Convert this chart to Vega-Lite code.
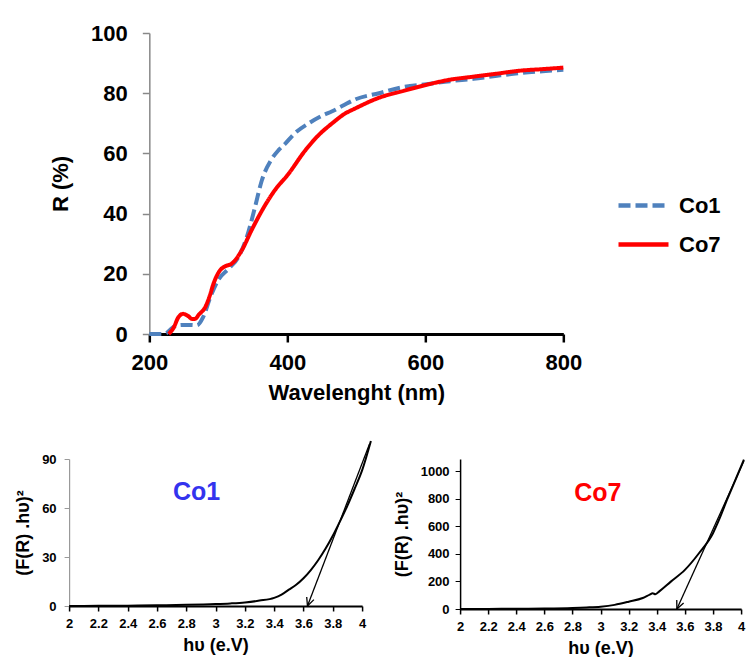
{
  "$schema": "https://vega.github.io/schema/vega-lite/v6.json",
  "background": "white",
  "padding": {"left": 14, "top": 22, "right": 0, "bottom": 0},
  "config": {
    "view": {"stroke": null},
    "font": "Liberation Sans",
    "axis": {"labelFontWeight": "bold", "titleFontWeight": "bold", "labelColor": "black", "titleColor": "black", "grid": false, "labelFont": "Liberation Sans", "titleFont": "Liberation Sans", "labelOverlap": false}
  },
  "datasets": {
    "refl": [
      {"wl": 200, "R": 0, "s": "Co1"}, {"wl": 210, "R": 0, "s": "Co1"}, {"wl": 220, "R": 0, "s": "Co1"}, {"wl": 225, "R": 0.3, "s": "Co1"},
      {"wl": 232, "R": 1.8, "s": "Co1"}, {"wl": 240, "R": 2.8, "s": "Co1"}, {"wl": 250, "R": 3, "s": "Co1"}, {"wl": 260, "R": 3, "s": "Co1"},
      {"wl": 269, "R": 2.9, "s": "Co1"}, {"wl": 278, "R": 5.6, "s": "Co1"}, {"wl": 288, "R": 12, "s": "Co1"}, {"wl": 300, "R": 18, "s": "Co1"},
      {"wl": 315, "R": 21.7, "s": "Co1"}, {"wl": 329, "R": 25.5, "s": "Co1"}, {"wl": 341, "R": 32, "s": "Co1"}, {"wl": 353, "R": 42, "s": "Co1"},
      {"wl": 363, "R": 51, "s": "Co1"}, {"wl": 377, "R": 58, "s": "Co1"}, {"wl": 387, "R": 61, "s": "Co1"}, {"wl": 396, "R": 63, "s": "Co1"},
      {"wl": 410, "R": 66.5, "s": "Co1"}, {"wl": 431, "R": 70, "s": "Co1"}, {"wl": 450, "R": 72.5, "s": "Co1"}, {"wl": 465, "R": 74, "s": "Co1"},
      {"wl": 480, "R": 75.8, "s": "Co1"}, {"wl": 499, "R": 78, "s": "Co1"}, {"wl": 533, "R": 80, "s": "Co1"}, {"wl": 567, "R": 82, "s": "Co1"},
      {"wl": 602, "R": 83, "s": "Co1"}, {"wl": 636, "R": 84, "s": "Co1"}, {"wl": 670, "R": 84.8, "s": "Co1"}, {"wl": 704, "R": 85.8, "s": "Co1"},
      {"wl": 738, "R": 86.7, "s": "Co1"}, {"wl": 770, "R": 87.3, "s": "Co1"}, {"wl": 800, "R": 87.8, "s": "Co1"},
      {"wl": 228, "R": 0, "s": "Co7"}, {"wl": 235, "R": 2, "s": "Co7"}, {"wl": 242, "R": 5.5, "s": "Co7"}, {"wl": 249, "R": 6.7, "s": "Co7"},
      {"wl": 256, "R": 6, "s": "Co7"}, {"wl": 262, "R": 5, "s": "Co7"}, {"wl": 266, "R": 5, "s": "Co7"}, {"wl": 272, "R": 6.5, "s": "Co7"},
      {"wl": 281, "R": 8.9, "s": "Co7"}, {"wl": 288, "R": 13, "s": "Co7"}, {"wl": 293, "R": 16.7, "s": "Co7"}, {"wl": 302, "R": 21, "s": "Co7"},
      {"wl": 310, "R": 22.5, "s": "Co7"}, {"wl": 319, "R": 23.3, "s": "Co7"}, {"wl": 334, "R": 27.8, "s": "Co7"}, {"wl": 348, "R": 34.4, "s": "Co7"},
      {"wl": 365, "R": 41.7, "s": "Co7"}, {"wl": 382, "R": 47.8, "s": "Co7"}, {"wl": 401, "R": 53, "s": "Co7"}, {"wl": 426, "R": 61, "s": "Co7"},
      {"wl": 445, "R": 66, "s": "Co7"}, {"wl": 465, "R": 70, "s": "Co7"}, {"wl": 482, "R": 73, "s": "Co7"}, {"wl": 499, "R": 75, "s": "Co7"},
      {"wl": 533, "R": 78.5, "s": "Co7"}, {"wl": 567, "R": 80.7, "s": "Co7"}, {"wl": 602, "R": 82.8, "s": "Co7"}, {"wl": 636, "R": 84.5, "s": "Co7"},
      {"wl": 670, "R": 85.5, "s": "Co7"}, {"wl": 704, "R": 86.5, "s": "Co7"}, {"wl": 738, "R": 87.5, "s": "Co7"}, {"wl": 770, "R": 88, "s": "Co7"},
      {"wl": 800, "R": 88.5, "s": "Co7"}
    ],
    "tauc1": [
      {"e": 2.0, "f": 0}, {"e": 2.2, "f": 0.1}, {"e": 2.4, "f": 0.2}, {"e": 2.6, "f": 0.4}, {"e": 2.8, "f": 0.7},
      {"e": 3.0, "f": 1.2}, {"e": 3.1, "f": 1.6}, {"e": 3.2, "f": 2.2}, {"e": 3.3, "f": 3.3}, {"e": 3.4, "f": 5},
      {"e": 3.45, "f": 7}, {"e": 3.5, "f": 10}, {"e": 3.55, "f": 13}, {"e": 3.6, "f": 17}, {"e": 3.65, "f": 22},
      {"e": 3.7, "f": 28}, {"e": 3.75, "f": 35}, {"e": 3.8, "f": 43}, {"e": 3.85, "f": 52}, {"e": 3.9, "f": 61.5},
      {"e": 3.95, "f": 72}, {"e": 4.0, "f": 83}, {"e": 4.06, "f": 101}
    ],
    "arrow1": [
      {"seg": "a", "o": 1, "e": 4.05, "f": 99}, {"seg": "a", "o": 2, "e": 3.627, "f": 0},
      {"seg": "b", "o": 1, "e": 3.627, "f": 0}, {"seg": "b", "o": 2, "e": 3.671, "f": 3.9},
      {"seg": "c", "o": 1, "e": 3.627, "f": 0}, {"seg": "c", "o": 2, "e": 3.622, "f": 5.5}
    ],
    "tauc7": [
      {"e": 2.0, "f": 0}, {"e": 2.2, "f": 0.5}, {"e": 2.4, "f": 1.5}, {"e": 2.6, "f": 3}, {"e": 2.8, "f": 7},
      {"e": 2.9, "f": 11}, {"e": 3.0, "f": 17}, {"e": 3.1, "f": 30}, {"e": 3.2, "f": 53}, {"e": 3.3, "f": 80},
      {"e": 3.35, "f": 105}, {"e": 3.37, "f": 114}, {"e": 3.39, "f": 108}, {"e": 3.42, "f": 130}, {"e": 3.5, "f": 199},
      {"e": 3.6, "f": 284}, {"e": 3.7, "f": 405}, {"e": 3.8, "f": 551}, {"e": 3.85, "f": 665}, {"e": 3.9, "f": 794},
      {"e": 3.95, "f": 915}, {"e": 4.0, "f": 1036}, {"e": 4.02, "f": 1085}
    ],
    "arrow7": [
      {"seg": "a", "o": 1, "e": 4.02, "f": 1075}, {"seg": "a", "o": 2, "e": 3.543, "f": 0},
      {"seg": "b", "o": 1, "e": 3.543, "f": 0}, {"seg": "b", "o": 2, "e": 3.591, "f": 43},
      {"seg": "c", "o": 1, "e": 3.543, "f": 0}, {"seg": "c", "o": 2, "e": 3.542, "f": 65}
    ],
    "labels": [
      {"panel": "Co1", "e": 2.87, "f": 70},
      {"panel": "Co7", "e": 2.98, "f": 840}
    ]
  },
  "vconcat": [
    {
      "width": 414,
      "height": 301,
      "title": {"text": " ", "orient": "right", "offset": 76, "fontSize": 10},
      "data": {"name": "refl"},
      "mark": {"type": "line", "interpolate": "monotone", "strokeWidth": 4},
      "encoding": {
        "x": {"field": "wl", "type": "quantitative", "scale": {"domain": [200, 800]},
          "axis": {"values": [200, 400, 600, 800], "title": "Wavelenght (nm)", "labelFontSize": 22, "titleFontSize": 22,
            "domainColor": "black", "domainWidth": 3, "tickColor": "black", "tickWidth": 2.5, "tickSize": 8,
            "labelPadding": 10, "titlePadding": 9, "labelFlush": false}},
        "y": {"field": "R", "type": "quantitative", "scale": {"domain": [0, 100]},
          "axis": {"values": [0, 20, 40, 60, 80, 100], "title": "R (%)", "labelFontSize": 22, "titleFontSize": 22,
            "domainColor": "#888888", "domainWidth": 1.5, "tickColor": "#888888", "tickWidth": 1.5, "tickSize": 7,
            "labelPadding": 15, "titlePadding": 18}},
        "color": {"field": "s", "type": "nominal",
          "scale": {"domain": ["Co1", "Co7"], "range": ["#4F81BD", "#FF0000"]},
          "legend": {"title": null, "orient": "none", "legendX": 547, "legendY": 145, "symbolType": "stroke",
            "symbolSize": 2500, "symbolStrokeWidth": 4.5, "labelFontSize": 22, "labelFontWeight": "bold",
            "labelColor": "black", "labelOffset": 8, "rowPadding": -10}},
        "strokeDash": {"field": "s", "type": "nominal",
          "scale": {"domain": ["Co1", "Co7"], "range": [[12, 5], [1, 0]]}, "legend": null}
      }
    },
    {
      "hconcat": [
        {
          "width": 293,
          "height": 147,
          "encoding": {
            "x": {"field": "e", "type": "quantitative", "scale": {"domain": [2, 4]},
              "axis": {"values": [2, 2.2, 2.4, 2.6, 2.8, 3, 3.2, 3.4, 3.6, 3.8, 4], "format": "~g", "title": "hυ (e.V)",
                "labelOverlap": false, "labelFontSize": 13, "titleFontSize": 18, "domainColor": "black", "domainWidth": 2,
                "tickColor": "black", "tickWidth": 1.5, "tickSize": 5, "labelPadding": 6, "titlePadding": 6, "labelFlush": false}},
            "y": {"field": "f", "type": "quantitative", "scale": {"domain": [0, 90]},
              "axis": {"values": [0, 30, 60, 90], "title": "(F(R) .hυ)²", "labelFontSize": 13, "titleFontSize": 18,
                "labelOverlap": false, "domainColor": "#999999", "domainWidth": 1.2, "tickColor": "#999999", "tickSize": 5,
                "labelPadding": 8, "titlePadding": 9}}
          },
          "layer": [
            {
              "data": {"name": "tauc1"},
              "mark": {"type": "line", "color": "black", "strokeWidth": 2, "interpolate": "monotone"}
            },
            {
              "data": {"name": "arrow1"},
              "mark": {"type": "line", "color": "black", "strokeWidth": 1.3},
              "encoding": {
                "detail": {"field": "seg"},
                "order": {"field": "o"}
              }
            },
            {
              "data": {"name": "labels"},
              "transform": [{"filter": "datum.panel === 'Co1'"}],
              "mark": {"type": "text", "fontSize": 25, "fontWeight": "bold", "color": "#3333EE"},
              "encoding": {
                "text": {"field": "panel"}
              }
            }
          ]
        },
        {
          "width": 281,
          "height": 150,
          "encoding": {
            "x": {"field": "e", "type": "quantitative", "scale": {"domain": [2, 4]},
              "axis": {"values": [2, 2.2, 2.4, 2.6, 2.8, 3, 3.2, 3.4, 3.6, 3.8, 4], "format": "~g", "title": "hυ (e.V)",
                "labelOverlap": false, "labelFontSize": 13, "titleFontSize": 18, "domainColor": "black", "domainWidth": 2,
                "tickColor": "black", "tickWidth": 1.5, "tickSize": 5, "labelPadding": 6, "titlePadding": 6, "labelFlush": false}},
            "y": {"field": "f", "type": "quantitative", "scale": {"domain": [0, 1090], "nice": false},
              "axis": {"values": [0, 200, 400, 600, 800, 1000], "format": "d", "title": "(F(R) .hυ)²", "labelFontSize": 13, "titleFontSize": 18,
                "labelOverlap": false, "domainColor": "black", "domainWidth": 1.5, "tickColor": "black", "tickSize": 5,
                "labelPadding": 6, "titlePadding": 9}}
          },
          "layer": [
            {
              "data": {"name": "tauc7"},
              "mark": {"type": "line", "color": "black", "strokeWidth": 2, "interpolate": "monotone"}
            },
            {
              "data": {"name": "arrow7"},
              "mark": {"type": "line", "color": "black", "strokeWidth": 1.3},
              "encoding": {
                "detail": {"field": "seg"},
                "order": {"field": "o"}
              }
            },
            {
              "data": {"name": "labels"},
              "transform": [{"filter": "datum.panel === 'Co7'"}],
              "mark": {"type": "text", "fontSize": 25, "fontWeight": "bold", "color": "#FF0000"},
              "encoding": {
                "text": {"field": "panel"}
              }
            }
          ]
        }
      ],
      "spacing": 18
    }
  ],
  "spacing": 34,
  "center": true
}
